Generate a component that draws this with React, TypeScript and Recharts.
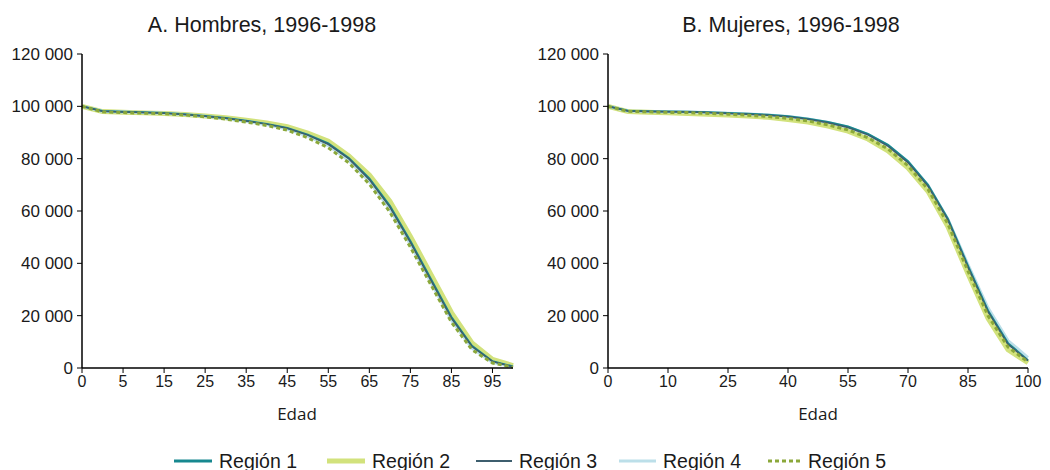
import React from "react";
import { LineChart, Line, XAxis, YAxis } from "recharts";

// Edad (grupos quinquenales, con 0 y 1)
const ages = [0, 1, 5, 10, 15, 20, 25, 30, 35, 40, 45, 50, 55, 60, 65, 70, 75, 80, 85, 90, 95, 100];

// Sobrevivientes lx, Hombres 1996-1998
const menR1 = [100000, 98200, 97900, 97700, 97500, 97000, 96300, 95500, 94500, 93300, 91700, 89200, 85800, 80200, 72500, 62000, 48500, 34000, 19500, 8500, 2600, 600];
const menR2 = [100000, 98000, 97700, 97500, 97300, 96900, 96300, 95600, 94700, 93600, 92200, 89800, 86700, 81000, 73800, 63800, 50300, 35800, 21200, 9600, 3300, 900];
const menR3 = [100000, 98100, 97800, 97600, 97400, 96900, 96200, 95400, 94400, 93200, 91600, 89000, 85500, 80000, 72000, 61500, 48000, 33500, 19000, 8200, 2500, 500];
const menR4 = [100000, 98100, 97800, 97600, 97400, 96900, 96200, 95300, 94300, 93000, 91300, 88600, 85000, 79300, 71300, 60700, 47200, 32800, 18300, 7600, 2200, 400];
const menR5 = [100000, 97900, 97600, 97400, 97200, 96700, 96000, 95100, 94000, 92700, 90900, 88000, 84200, 78400, 70300, 59600, 46200, 31800, 17500, 7000, 1900, 300];

// Sobrevivientes lx, Mujeres 1996-1998
const womenR1 = [100000, 98300, 98100, 98000, 97900, 97700, 97500, 97200, 96800, 96200, 95300, 94000, 92300, 89500, 85300, 79000, 70000, 57000, 39000, 22000, 9500, 3000];
const womenR2 = [100000, 98000, 97700, 97500, 97300, 97000, 96700, 96300, 95800, 95000, 94000, 92500, 90500, 87500, 83000, 76500, 67500, 54000, 36000, 19000, 7000, 2000];
const womenR3 = [100000, 98200, 98000, 97900, 97800, 97600, 97300, 97000, 96600, 96000, 95100, 93700, 91900, 89100, 84800, 78500, 69500, 56500, 38500, 21500, 9000, 2800];
const womenR4 = [100000, 98200, 98000, 97900, 97800, 97600, 97400, 97100, 96700, 96100, 95200, 93800, 92000, 89200, 85000, 78800, 69800, 56800, 39500, 23000, 10500, 4000];
const womenR5 = [100000, 98100, 97900, 97700, 97600, 97300, 97000, 96600, 96100, 95400, 94400, 92900, 91000, 88000, 83700, 77300, 68300, 55000, 37000, 20000, 8000, 2300];

const yTicks = [0, 20000, 40000, 60000, 80000, 100000, 120000];
const regionNames = ["Región 1", "Región 2", "Región 3", "Región 4", "Región 5"];

const COLORS = {
  r1: "#17888f",
  r2: "#d2e27c",
  r3: "#3d5e6e",
  r4: "#bcdfe9",
  r5: "#8ba83a",
};

const buildRows = (series: number[][]) =>
  ages.map((age, i) => ({
    age,
    r1: series[0][i],
    r2: series[1][i],
    r3: series[2][i],
    r4: series[3][i],
    r5: series[4][i],
  }));

const menData = buildRows([menR1, menR2, menR3, menR4, menR5]);
const womenData = buildRows([womenR1, womenR2, womenR3, womenR4, womenR5]);

const fmt = (v: number) => String(v).replace(/\B(?=(\d{3})+(?!\d))/g, " ");

const labelFont = "Liberation Sans, Arial, sans-serif";
const yTickStyle = { fill: "#1a1a1a", fontSize: 17, fontFamily: labelFont };
const xTickStyle = { fill: "#1a1a1a", fontSize: 16, fontFamily: labelFont };

const Panel = ({ data, yWidth, right, interval }: { data: any[]; yWidth: number; right: number; interval: number }) => (
  <LineChart width={525} height={400} data={data} margin={{ top: 54, right, left: 0, bottom: 2 }}>
    <XAxis
      dataKey="age"
      interval={interval}
      height={30}
      tick={xTickStyle}
      tickSize={5}
      tickMargin={3}
      axisLine={{ stroke: "#000", strokeWidth: 1.5 }}
      tickLine={{ stroke: "#000" }}
    />
    <YAxis
      domain={[0, 120000]}
      ticks={yTicks}
      width={yWidth}
      tick={yTickStyle}
      tickFormatter={fmt}
      tickSize={5}
      tickMargin={4}
      axisLine={{ stroke: "#000", strokeWidth: 1.5 }}
      tickLine={{ stroke: "#000" }}
    />
    <Line dataKey="r2" stroke={COLORS.r2} strokeWidth={5} dot={false} isAnimationActive={false} />
    <Line dataKey="r4" stroke={COLORS.r4} strokeWidth={3} dot={false} isAnimationActive={false} />
    <Line dataKey="r1" stroke={COLORS.r1} strokeWidth={2} dot={false} isAnimationActive={false} />
    <Line dataKey="r3" stroke={COLORS.r3} strokeWidth={1.5} dot={false} isAnimationActive={false} />
    <Line dataKey="r5" stroke={COLORS.r5} strokeWidth={3} strokeDasharray="4 3" dot={false} isAnimationActive={false} />
  </LineChart>
);

const legendItems = [
  { key: "r1", x: 174, w: 38, dash: undefined as string | undefined, sw: 3 },
  { key: "r2", x: 327, w: 38, dash: undefined, sw: 5 },
  { key: "r3", x: 476, w: 36, dash: undefined, sw: 2 },
  { key: "r4", x: 619, w: 37, dash: undefined, sw: 3 },
  { key: "r5", x: 768, w: 33, dash: "4 3", sw: 3 },
];

const App = () => (
  <div style={{ position: "absolute", left: 0, top: 0, width: 1050, height: 470, background: "#fff" }}>
    <div style={{ position: "absolute", left: 0, top: 0 }}>
      <Panel data={menData} yWidth={82} right={12} interval={1} />
    </div>
    <div style={{ position: "absolute", left: 525, top: 0 }}>
      <Panel data={womenData} yWidth={83} right={22} interval={2} />
    </div>

    <div style={{ position: "absolute", left: 62, width: 400, top: 13, textAlign: "center", fontFamily: labelFont, fontSize: 21.5, color: "#1a1a1a" }}>
      A. Hombres, 1996-1998
    </div>
    <div style={{ position: "absolute", left: 591, width: 400, top: 13, textAlign: "center", fontFamily: labelFont, fontSize: 21.5, color: "#1a1a1a" }}>
      B. Mujeres, 1996-1998
    </div>

    <div style={{ position: "absolute", left: 197, width: 200, top: 402, textAlign: "center", fontFamily: "Open Sans, Noto Sans, sans-serif", fontSize: 17, color: "#1a1a1a" }}>
      Edad
    </div>
    <div style={{ position: "absolute", left: 718, width: 200, top: 402, textAlign: "center", fontFamily: "Open Sans, Noto Sans, sans-serif", fontSize: 17, color: "#1a1a1a" }}>
      Edad
    </div>

    {legendItems.map((it, i) => (
      <div key={it.key} style={{ position: "absolute", left: it.x, top: 448, height: 26, display: "flex", alignItems: "center" }}>
        <svg width={it.w} height={10} style={{ display: "block" }}>
          <line x1={0} y1={5} x2={it.w} y2={5} stroke={(COLORS as any)[it.key]} strokeWidth={it.sw} strokeDasharray={it.dash} />
        </svg>
        <span style={{ marginLeft: 7, fontFamily: labelFont, fontSize: 19.5, color: "#1a1a1a", whiteSpace: "nowrap" }}>
          {regionNames[i]}
        </span>
      </div>
    ))}
  </div>
);

export default App;
